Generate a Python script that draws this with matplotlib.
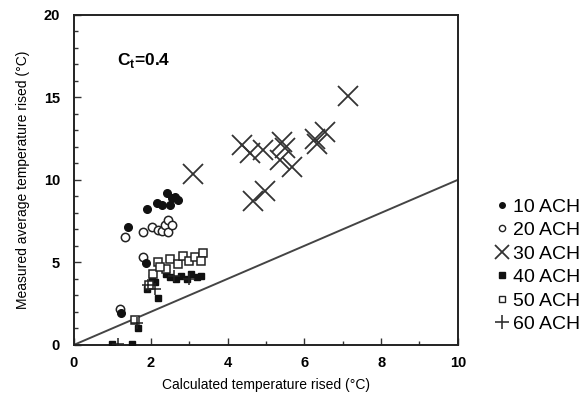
import matplotlib
matplotlib.use("Agg")
import matplotlib.pyplot as plt
from matplotlib.lines import Line2D
from matplotlib.ticker import MultipleLocator

plt.rcParams['font.family'] = ['Liberation Sans', 'DejaVu Sans']

# measured vs calculated temperature rise, grouped by air change rate
ach10_x = [1.41, 1.90, 2.16, 2.29, 2.42, 2.50, 2.63, 2.71, 2.55, 1.88, 1.22]
ach10_y = [7.15, 8.24, 8.60, 8.48, 9.20, 8.48, 8.97, 8.79, 8.90, 4.97, 1.94]

ach20_x = [1.33, 1.80, 2.03, 2.19, 2.29, 2.37, 2.45, 2.45, 2.55, 1.80, 1.20]
ach20_y = [6.55, 6.85, 7.15, 6.97, 6.91, 7.27, 7.58, 6.85, 7.27, 5.33, 2.18]

ach30_x = [3.10, 4.38, 4.58, 4.92, 5.42, 5.49, 5.36, 5.68, 6.28, 6.54, 6.33, 4.97, 4.66, 7.14]
ach30_y = [10.36, 12.1, 11.6, 11.8, 12.3, 11.9, 11.2, 10.8, 12.5, 12.9, 12.2, 9.3, 8.7, 15.1]

ach40_x = [1.00, 1.51, 1.67, 2.20, 2.03, 2.10, 2.50, 2.65, 2.80, 2.95, 3.05, 3.20, 3.30, 2.40, 1.90]
ach40_y = [0.05, 0.05, 1.00, 2.85, 4.10, 3.80, 4.10, 4.00, 4.20, 4.00, 4.30, 4.10, 4.20, 4.30, 3.40]

ach50_x = [1.60, 1.95, 2.20, 2.50, 2.70, 2.85, 3.00, 3.15, 3.35, 3.30, 2.40, 2.05, 2.25]
ach50_y = [1.50, 3.60, 5.00, 5.20, 4.90, 5.40, 5.10, 5.30, 5.55, 5.10, 4.60, 4.30, 4.70]

ach60_x = [1.15, 1.65, 1.93, 2.10, 2.60, 3.00]
ach60_y = [0.05, 1.30, 3.60, 3.40, 4.20, 4.00]

ref_line = [0, 10]
legend_labels = ['10 ACH', '20 ACH', '30 ACH', '40 ACH', '50 ACH', '60 ACH']

fig = plt.figure(figsize=(5.87, 4.01), dpi=100)
ax = fig.add_axes([0.126, 0.140, 0.654, 0.823])

ax.plot(ref_line, ref_line, color='#444444', lw=1.4, zorder=1)

ax.plot(ach40_x, ach40_y, 's', ms=5, color='#111111', zorder=3)
ax.plot(ach50_x, ach50_y, 's', ms=6, mfc='white', mec='#222222', mew=1.1, zorder=4)
ax.plot(ach60_x, ach60_y, '+', ms=9, color='#222222', mew=1.1, zorder=4)
ax.plot(ach20_x, ach20_y, 'o', ms=6, mfc='white', mec='#222222', mew=1.1, zorder=4)
ax.plot(ach10_x, ach10_y, 'o', ms=5.5, color='#111111', zorder=5)
ax.plot(ach30_x, ach30_y, 'x', ms=15, color='#333333', mew=1.3, zorder=4)

ax.set_xlim(0, 10)
ax.set_ylim(0, 20)
ax.xaxis.set_major_locator(MultipleLocator(2))
ax.xaxis.set_minor_locator(MultipleLocator(1))
ax.yaxis.set_major_locator(MultipleLocator(5))
ax.yaxis.set_minor_locator(MultipleLocator(1))
ax.tick_params(which='both', direction='in', top=False, right=False,
               labelsize=10.5, width=1.0, color='#333333')
ax.tick_params(which='major', length=5)
ax.tick_params(which='minor', length=3)
ax.tick_params(axis='x', pad=8)
ax.tick_params(axis='y', pad=10)
for lbl in ax.get_xticklabels() + ax.get_yticklabels():
    lbl.set_fontweight('bold')
for s in ax.spines.values():
    s.set_linewidth(1.4)
    s.set_color('#222222')

ax.set_xlabel('Calculated temperature rised (\u00b0C)', fontsize=10, labelpad=6)
ax.set_ylabel('Measured average temperature rised (\u00b0C)', fontsize=10, labelpad=10)

ax.text(0.113, 0.862, 'C$_\\mathregular{t}$=0.4', transform=ax.transAxes,
        fontsize=12.5, va='center', fontweight='bold')

handles = [
    Line2D([], [], ls='', marker='o', ms=4, color='#111111'),
    Line2D([], [], ls='', marker='o', ms=4.5, mfc='white', mec='#222222', mew=1.0),
    Line2D([], [], ls='', marker='x', ms=10, color='#333333', mew=1.3),
    Line2D([], [], ls='', marker='s', ms=4, color='#111111'),
    Line2D([], [], ls='', marker='s', ms=4.5, mfc='white', mec='#222222', mew=1.0),
    Line2D([], [], ls='', marker='+', ms=10, color='#333333', mew=1.2),
]
fig.legend(handles, legend_labels, loc='upper left', bbox_to_anchor=(0.827, 0.530),
           frameon=False, fontsize=14, handlelength=0.7, handletextpad=0.2,
           labelspacing=0.3, borderpad=0)

fig.savefig('out.png', dpi=100)
